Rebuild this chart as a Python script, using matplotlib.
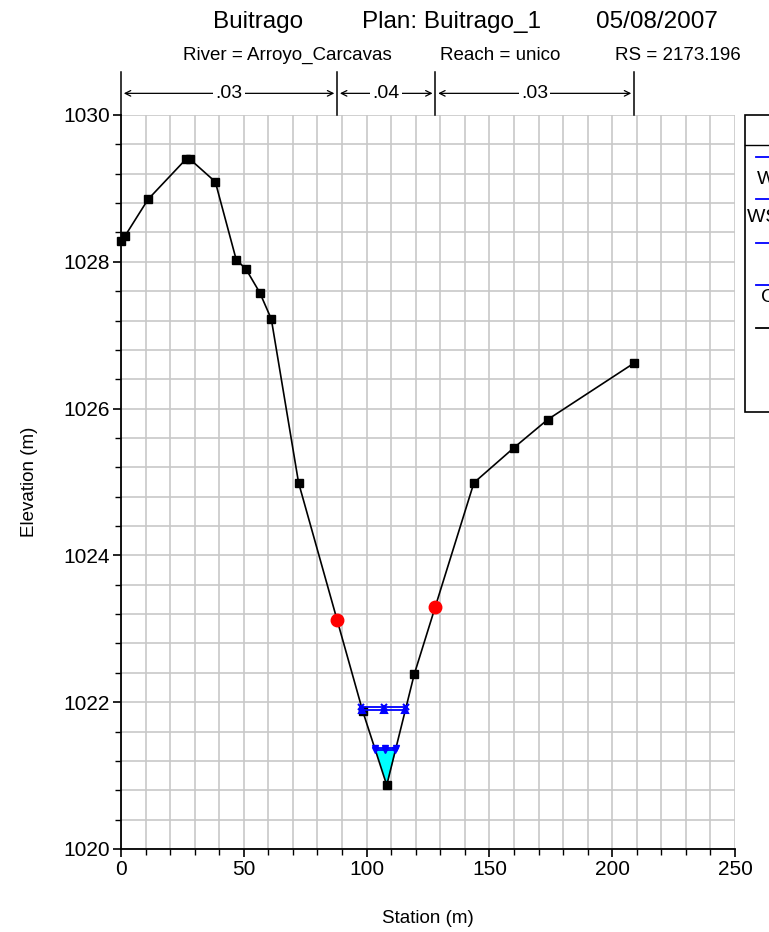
import numpy as np
import matplotlib
matplotlib.use('Agg')
import matplotlib.pyplot as plt
from matplotlib.ticker import MultipleLocator
from matplotlib.lines import Line2D
from matplotlib.patches import Rectangle

plt.rcParams['font.family'] = ['Liberation Sans', 'DejaVu Sans']

# Geländeprofil (Station, Höhe)
station = [0.0, 1.6, 11.0, 26.5, 28.0, 38.4, 46.9, 50.9, 56.5, 61.2, 72.3,
           98.4, 108.2, 119.4, 143.7, 160.1, 173.7, 208.9]
elevation = [1028.28, 1028.35, 1028.85, 1029.40, 1029.40, 1029.09, 1028.03,
             1027.90, 1027.58, 1027.22, 1024.99, 1021.88, 1020.87, 1022.38,
             1024.99, 1025.47, 1025.85, 1026.62]

# Uferstationen
bank_sta = [88.0, 128.0]

# Wasserspiegel
ws_upper = [1021.94, 1021.89]
ws_lower = [1021.38, 1021.35]

# Manning n Abschnitte
n_edges = [0.0, 88.0, 128.0, 208.9]
n_values = ['.03', '.04', '.03']

# Titelzeilen
title_parts = ['Buitrago', 'Plan: Buitrago_1', '05/08/2007']
sub_parts = ['River = Arroyo_Carcavas', 'Reach = unico', 'RS = 2173.196']

# Legende (abgeschnitten)
leg_labels = ['WS PF 2', 'WS PF 1', '', 'Crit PF 1', 'Ground']
leg_colors = ['blue', 'blue', 'blue', 'blue', 'black']

sta = np.array(station)
elev = np.array(elevation)


def wet_extent(level):
    # Schnittpunkte Wasserspiegel mit Gelände um den Tiefpunkt
    i0 = np.argmin(elev)
    i = i0
    while elev[i - 1] < level:
        i -= 1
    xl = np.interp(level, [elev[i], elev[i - 1]], [sta[i], sta[i - 1]])
    j = i0
    while elev[j + 1] < level:
        j += 1
    xr = np.interp(level, [elev[j], elev[j + 1]], [sta[j], sta[j + 1]])
    return xl, xr


W, H = 769, 932
fig = plt.figure(figsize=(W/100, H/100), dpi=100)
ax = fig.add_axes([121/W, 83/H, 614/W, 734/H])

# Wasserfläche
xl, xr = wet_extent(ws_lower[0])
xs = np.linspace(xl, xr, 80)
ax.fill_between(xs, np.interp(xs, sta, elev), ws_lower[0], color='cyan', zorder=3, lw=0)

# Gelände
ax.plot(sta, elev, 'k-', lw=1.2, marker='s', ms=5.5, zorder=5, clip_on=False)

# Uferstationen
bank_elev = np.interp(bank_sta, sta, elev)
ax.plot(bank_sta, bank_elev, 'o', color='red', ms=9, zorder=6, ls='none')

# Wasserspiegel
for lvl, mk in zip(ws_upper, ['x', '^']):
    a, b = wet_extent(lvl)
    ax.plot([a, (a + b)/2, b], [lvl]*3, color='blue', lw=1.3, marker=mk,
            ms=5, mew=1.5, zorder=7)
for lvl in ws_lower:
    a, b = wet_extent(lvl)
    ax.plot([a, (a + b)/2, b], [lvl]*3, color='blue', lw=1.3, marker='v',
            ms=5, zorder=7)

ax.set_xlim(0, 250)
ax.set_ylim(1020, 1030)
ax.xaxis.set_major_locator(MultipleLocator(50))
ax.xaxis.set_minor_locator(MultipleLocator(10))
ax.yaxis.set_major_locator(MultipleLocator(2))
ax.yaxis.set_minor_locator(MultipleLocator(0.4))
ax.grid(which='both', color='#c8c8c8', lw=1.2)
ax.set_axisbelow(True)
ax.tick_params(which='major', direction='out', length=6, width=1.2, labelsize=15, pad=2)
ax.tick_params(which='minor', direction='out', length=4, width=1.0)
ax.spines['top'].set_visible(False)
ax.spines['right'].set_visible(False)
ax.spines['left'].set_linewidth(1.3)
ax.spines['bottom'].set_linewidth(1.3)
ax.set_xlabel('Station (m)', fontsize=13.5, labelpad=22)
ax.set_ylabel('Elevation (m)', fontsize=13.5, labelpad=18)

# Titel
for txt, xc in zip(title_parts, [258, 452, 657]):
    fig.text(xc/W, 1 - 22/H, txt, ha='center', va='center', fontsize=17.5)
for txt, xc in zip(sub_parts, [287, 500, 678]):
    fig.text(xc/W, 1 - 55/H, txt, ha='center', va='center', fontsize=13.5)

# Manning n Balken
tr = ax.get_xaxis_transform()
for x in n_edges:
    ax.plot([x, x], [1.0, 1.0587], color='black', lw=1.1, transform=tr, clip_on=False)
for k, lab in enumerate(n_values):
    x0, x1 = n_edges[k], n_edges[k + 1]
    xm = (x0 + x1)/2
    ax.annotate('', xy=(x0, 1.0295), xytext=(xm, 1.0295), xycoords=tr,
                arrowprops=dict(arrowstyle='->', lw=0.9, color='black'))
    ax.annotate('', xy=(x1, 1.0295), xytext=(xm, 1.0295), xycoords=tr,
                arrowprops=dict(arrowstyle='->', lw=0.9, color='black'))
    ax.text(xm, 1.0295, lab, transform=tr, ha='center', va='center', fontsize=14,
            bbox=dict(facecolor='white', edgecolor='none', pad=1.5), zorder=10)

# Legende am rechten Rand
fig.add_artist(Rectangle((745/W, 1 - 412/H), 100/W, 297/H, transform=fig.transFigure,
                         facecolor='white', edgecolor='black', lw=1.2))
fig.add_artist(Line2D([745/W, 1], [1 - 145/H]*2, transform=fig.transFigure,
                      color='black', lw=1.0))
line_y = [157, 199, 243, 285, 328]
text_y = [179, 217, None, 298, None]
text_x = [757, 747, None, 761, None]
for lab, col, ly, ty, tx in zip(leg_labels, leg_colors, line_y, text_y, text_x):
    fig.add_artist(Line2D([756/W, 1], [1 - ly/H]*2, transform=fig.transFigure,
                          color=col, lw=1.3))
    if ty is not None and lab:
        fig.text(tx/W, 1 - ty/H, lab, ha='left', va='center', fontsize=14)

plt.savefig('out.png', dpi=100)
